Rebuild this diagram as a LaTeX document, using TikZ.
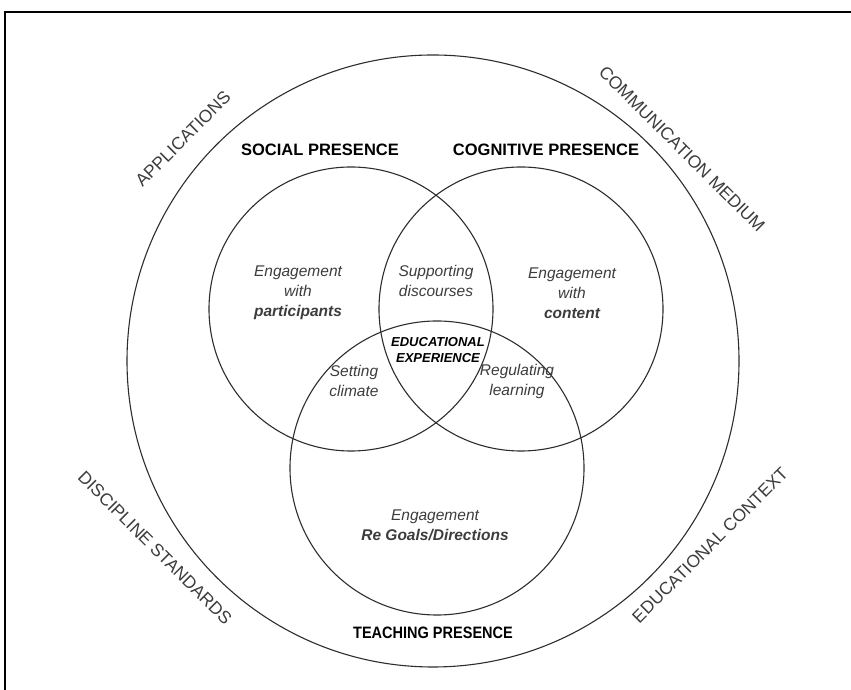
\documentclass[tikz,border=0pt]{standalone}
\usepackage{fontspec}
\setmainfont{Liberation Sans}
\newfontfamily\estrecha[FakeStretch=0.88]{Liberation Sans}
\definecolor{lineagris}{RGB}{45,45,45}
\definecolor{textogris}{RGB}{60,60,60}
\usetikzlibrary{positioning}

\tikzset{
  presencia/.style={draw=lineagris, line width=1.1pt},
  titulo/.style={font=\bfseries\fontsize{16.5}{20}\selectfont},
  contorno/.style={font=\fontsize{17.5}{20}\selectfont, text=textogris},
  region/.style={font=\itshape\fontsize{15.5}{20}\selectfont, text=textogris, align=center},
}

\begin{document}
\begin{tikzpicture}[x=1pt, y=1pt]
  \useasboundingbox (0,0) rectangle (851,690);

  % Marco
  \coordinate (abajo) at (5,0);
  \coordinate (esquina) at (5,678);
  \coordinate (derecha) at (851,678);
  \draw[line width=1.3pt] (abajo) -- (esquina) -- (derecha);

  % Centros de los circulos
  \coordinate (contexto) at (433,329);
  \coordinate (social) at (351,381);
  \coordinate (cognitiva) at (521,381);
  \coordinate (docente) at (437,222);

  % Circulos
  \draw[presencia] (contexto) circle (306);
  \foreach \c/\r in {social/142, cognitiva/142, docente/147} {
    \draw[presencia] (\c) circle (\r);
  }

  % Etiquetas del contorno
  \node[contorno, rotate=45] (aplicaciones) at (183,551) {APPLICATIONS};
  \node[contorno, rotate=-45] (medio) at (682,541) {COMMUNICATION MEDIUM};
  \node[contorno, rotate=-45] (disciplina) at (155,142) {DISCIPLINE STANDARDS};
  \node[contorno, rotate=45] (educativo) at (710,145) {EDUCATIONAL CONTEXT};

  % Titulos
  \node[titulo] (tsocial) at (320,540) {SOCIAL PRESENCE};
  \node[titulo] (tcognitiva) at (546,540) {COGNITIVE PRESENCE};
  \node[titulo, font=\estrecha\bfseries\fontsize{16.5}{20}\selectfont] (tdocente) at (433,57) {TEACHING PRESENCE};

  % Regiones
  \node[region] (participantes) at (298,397) {Engagement\\with\\\textbf{participants}};
  \node[region] (contenido) at (572,397) {Engagement\\with\\\textbf{content}};
  \node[region] (discursos) at (436,409) {Supporting\\discourses};
  \node[region] (clima) at (354,309) {Setting\\climate};
  \node[region] (aprendizaje) at (517,309) {Regulating\\learning};
  \node[region] (metas) at (435,165) {Engagement\\\textbf{Re Goals/Directions}};
  \node[region, font=\bfseries\itshape\fontsize{13}{15.5}\selectfont, text=black] (experiencia) at (438,340) {EDUCATIONAL\\EXPERIENCE};
\end{tikzpicture}
\end{document}
